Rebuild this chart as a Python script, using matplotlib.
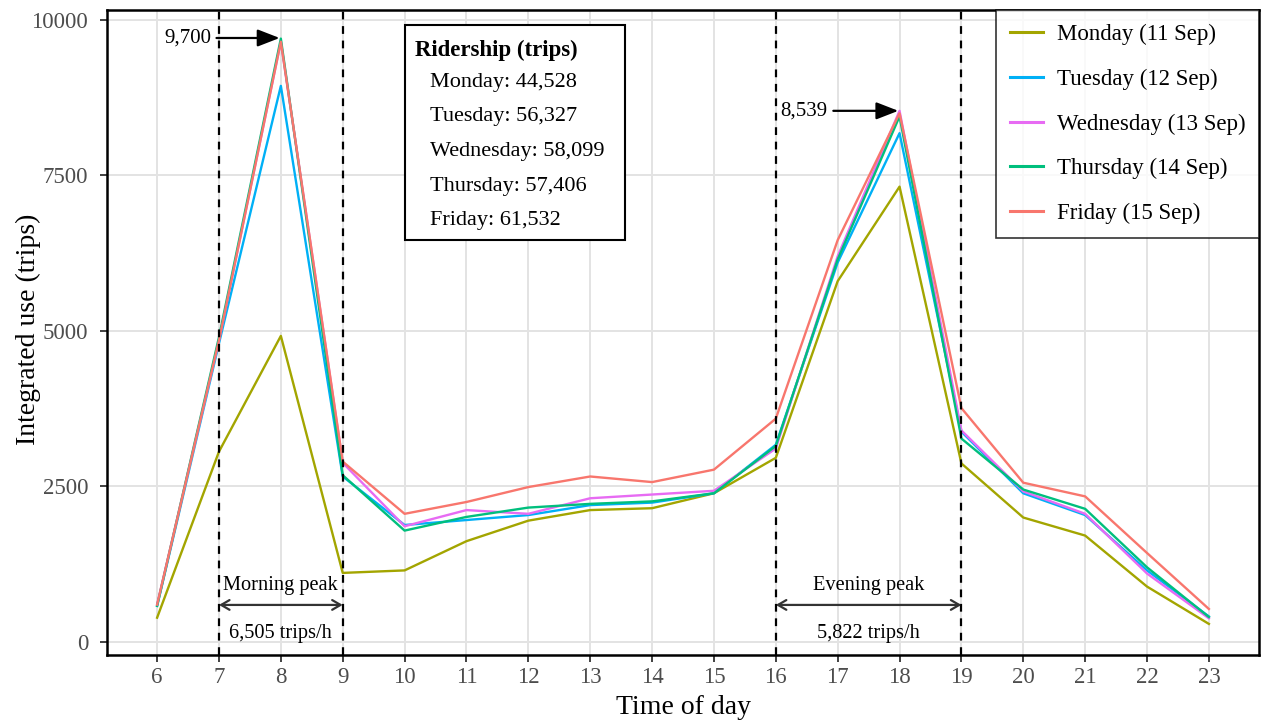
import matplotlib
matplotlib.use("Agg")
import matplotlib.pyplot as plt

hours = list(range(6, 24))
days = ["Monday (11 Sep)", "Tuesday (12 Sep)", "Wednesday (13 Sep)", "Thursday (14 Sep)", "Friday (15 Sep)"]
colors = ["#A3A500", "#00B0F6", "#E76BF3", "#00BF7D", "#F8766D"]

monday = [390, 3060, 4920, 1110, 1150, 1620, 1950, 2120, 2150, 2390, 2960, 5800, 7320, 2870, 2000, 1710, 890, 290]
tuesday = [580, 4800, 8940, 2660, 1880, 1960, 2040, 2200, 2240, 2390, 3170, 6100, 8180, 3380, 2390, 2040, 1150, 410]
wednesday = [600, 4850, 9650, 2880, 1860, 2120, 2060, 2310, 2370, 2430, 3110, 6200, 8539, 3400, 2420, 2060, 1100, 380]
thursday = [580, 4900, 9700, 2680, 1790, 2010, 2160, 2220, 2260, 2390, 3150, 6150, 8450, 3270, 2450, 2140, 1200, 400]
friday = [600, 4850, 9650, 2900, 2060, 2250, 2490, 2660, 2570, 2770, 3590, 6460, 8500, 3760, 2560, 2340, 1430, 530]
series = [monday, tuesday, wednesday, thursday, friday]

peak_lines = [7, 9, 16, 19]
ridership_lines = ["Monday: 44,528", "Tuesday: 56,327", "Wednesday: 58,099", "Thursday: 57,406", "Friday: 61,532"]

plt.rcParams['font.family'] = ['Liberation Serif', 'DejaVu Serif']

fig = plt.figure(figsize=(12.62, 7.24), dpi=100)
ax = fig.add_axes([107/1262, 1-655/724, (1259-107)/1262, (655-10)/724])

for vals, c, lab in zip(series, colors, days):
    ax.plot(hours, vals, color=c, lw=1.7, label=lab, zorder=3)

for x in peak_lines:
    ax.axvline(x, color="black", ls=(0, (3.5, 3.0)), lw=1.6, zorder=4)

ax.set_xlim(5.19, 23.81)
ax.set_ylim(-210, 10160)
ax.set_xticks(hours)
ax.set_yticks([0, 2500, 5000, 7500, 10000])
ax.grid(True, color="#e3e3e3", lw=1.4, zorder=0)
ax.set_axisbelow(True)
for s in ax.spines.values():
    s.set_linewidth(1.8)
    s.set_color("black")
ax.tick_params(axis="both", labelsize=16.5, labelcolor="#4d4d4d", length=5, width=1.3,
               direction="out", color="#333333")
ax.tick_params(axis="y", pad=8.5)
ax.set_xlabel("Time of day", fontsize=20, labelpad=5.5)
ax.set_ylabel("Integrated use (trips)", fontsize=20)
ax.yaxis.set_label_coords((41 - 107) / 1152, 0.505)

# peak arrows
arrow_kw = dict(arrowstyle="<->,head_length=0.6,head_width=0.35", color="#333333", lw=1.6, shrinkA=0, shrinkB=0)
ax.annotate("", xy=(7, 595), xytext=(9, 595), arrowprops=arrow_kw, zorder=5)
ax.annotate("", xy=(16, 595), xytext=(19, 595), arrowprops=arrow_kw, zorder=5)
ax.text(8, 900, "Morning peak", ha="center", va="center", fontsize=14.7)
ax.text(8, 130, "6,505 trips/h", ha="center", va="center", fontsize=14.7)
ax.text(17.5, 900, "Evening peak", ha="center", va="center", fontsize=14.7)
ax.text(17.5, 130, "5,822 trips/h", ha="center", va="center", fontsize=14.7)

# max annotations
ax.annotate("9,700", xy=(7.98, 9710), xytext=(6.87, 9710), ha="right", va="center", fontsize=15,
            arrowprops=dict(arrowstyle="-|>,head_length=0.9,head_width=0.35", color="black", lw=1.6,
                            shrinkA=2, shrinkB=0), zorder=6)
ax.annotate("8,539", xy=(17.98, 8539), xytext=(16.84, 8539), ha="right", va="center", fontsize=15,
            arrowprops=dict(arrowstyle="-|>,head_length=0.9,head_width=0.35", color="black", lw=1.6,
                            shrinkA=2, shrinkB=0), zorder=6)

# ridership box
bx0, by0, bw, bh = 405/1262, 1-240/724, 220/1262, 215/724
rect = plt.Rectangle((bx0, by0), bw, bh, transform=fig.transFigure, facecolor="white",
                     edgecolor="black", lw=1.5, zorder=7)
fig.patches.append(rect)
t = fig.text(415/1262, 1-50/724, "Ridership (trips)", fontsize=16.5, fontweight="bold", ha="left", va="center")
t.set_zorder(8)
for i, line in enumerate(ridership_lines):
    tt = fig.text(430/1262, 1-(82 + i*34.7)/724, line, fontsize=16, ha="left", va="center")
    tt.set_zorder(8)

leg = ax.legend(loc="upper right", bbox_to_anchor=(1.0, 1.0), fontsize=16.5, frameon=True,
                fancybox=False, edgecolor="black", borderpad=0.6, labelspacing=1.03,
                handlelength=1.45, handletextpad=0.6, borderaxespad=0.0)
leg.get_frame().set_linewidth(1.2)
for h in leg.get_lines():
    h.set_linewidth(2.2)

fig.savefig("out.png", dpi=100)
